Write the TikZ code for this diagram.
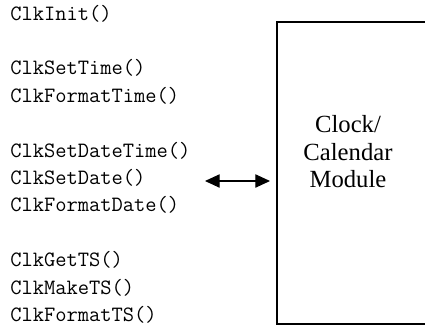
\documentclass[tikz,border=0pt]{standalone}
\usepackage{fontspec}
\setmainfont{Liberation Serif}
\usepackage{tikz}
\usetikzlibrary{arrows.meta,positioning,calc}

\tikzset{
  apicall/.style={anchor=base west,inner sep=0pt,font=\ttfamily\fontsize{16.4}{18}\selectfont},
  modbox/.style={draw,line width=2.1pt,minimum width=112.5pt,minimum height=226.5pt,outer sep=0pt},
  modlabel/.style={align=center,font=\fontsize{18.5}{20.6}\selectfont,inner sep=0pt},
  biarrow/.style={{Triangle[length=11pt,width=10pt]}-{Triangle[length=11pt,width=10pt]},line width=0.8pt}
}

\begin{document}
\begin{tikzpicture}[x=0.75pt,y=-0.75pt]
  \useasboundingbox (0,0) rectangle (425,326);
  \clip (0,0) rectangle (425,326);

  % function list, one slot is 27.4px
  \foreach \fn/\row in {ClkInit()/0,ClkSetTime()/2,ClkFormatTime()/3,
      ClkSetDateTime()/5,ClkSetDate()/6,ClkFormatDate()/7,
      ClkGetTS()/9,ClkMakeTS()/10,ClkFormatTS()/11}
    \node[apicall] (fn-\row) at (10,20+27.4*\row) {\fn};

  % module box, right side runs off the page
  \node[modbox] (clk) at (352,173) {};
  \node[modlabel] (lbl) at (348,152) {Clock/\\Calendar\\Module};

  \coordinate (api) at (205,181);
  \draw[biarrow,shorten >=5.25pt] (api) -- (api -| clk.west);
\end{tikzpicture}
\end{document}
